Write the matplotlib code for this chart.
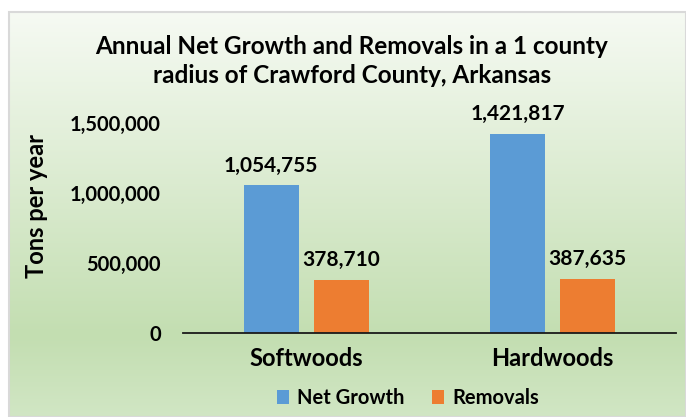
import matplotlib
matplotlib.use("Agg")
import matplotlib.pyplot as plt
import numpy as np
from matplotlib.colors import LinearSegmentedColormap
from matplotlib.patches import Rectangle

categories = ["Softwoods", "Hardwoods"]
net_growth = [1054755, 1421817]
removals = [378710, 387635]
series_names = ["Net Growth", "Removals"]
yticks = [0, 500000, 1000000, 1500000]

plt.rcParams['font.family'] = ['Lato', 'DejaVu Sans']
plt.rcParams['font.weight'] = 'bold'

fig = plt.figure(figsize=(6.86, 4.17), dpi=100)

# gradient background with grey frame
bg = fig.add_axes([10 / 686, 0, 676 / 686, 405 / 417])
bg.set_zorder(-1)
cmap = LinearSegmentedColormap.from_list(
    "bg", [(0.0, "#f6faf3"), (0.80, "#c3deb1"), (1.0, "#d1e6c4")])
grad = np.linspace(0, 1, 256).reshape(-1, 1)
bg.imshow(grad, aspect="auto", cmap=cmap, extent=[0, 1, 0, 1], origin="upper")
bg.set_xlim(0, 1)
bg.set_ylim(0, 1)
bg.axis("off")
fig.patches.append(Rectangle((9 / 686, 0), 677 / 686, 405 / 417, transform=fig.transFigure,
                             fill=False, edgecolor="#d9d9d9", linewidth=1.5))

ax = fig.add_axes([183 / 686, 84 / 417, 493 / 686, 210 / 417])
ax.patch.set_alpha(0)

x = np.arange(len(categories))
w = 0.223
off = 0.142
b1 = ax.bar(x - off, net_growth, w, color="#5b9bd5", label=series_names[0])
b2 = ax.bar(x + off, removals, w, color="#ed7d31", label=series_names[1])

for bars, vals in [(b1, net_growth), (b2, removals)]:
    for r, v in zip(bars, vals):
        ax.annotate(f"{v:,}", (r.get_x() + r.get_width() / 2, v), xytext=(0, 7),
                    textcoords="offset points", ha="center", va="bottom",
                    fontsize=15, fontweight="bold", annotation_clip=False)

ax.set_xlim(-0.5, 1.5)
ax.set_ylim(0, 1500000)
ax.set_yticks(yticks)
ax.set_yticklabels([f"{t:,}" for t in yticks])
ax.set_xticks(x)
ax.set_xticklabels(categories, fontsize=17, fontweight="bold")
ax.tick_params(axis="y", length=0, labelsize=14.5, pad=16)
ax.tick_params(axis="x", length=0, pad=10)
for s in ["top", "right", "left"]:
    ax.spines[s].set_visible(False)
ax.spines["bottom"].set_color("#1a1a1a")
ax.spines["bottom"].set_linewidth(1.3)

fig.text(37 / 686, 1 - 206 / 417, "Tons per year", rotation=90, ha="center", va="center",
         fontsize=17, fontweight="bold")
fig.text(352 / 686, 1 - 61 / 417,
         "Annual Net Growth and Removals in a 1 county\nradius of Crawford County, Arkansas",
         ha="center", va="center", fontsize=17.5, fontweight="bold", linespacing=1.35)

fig.legend(handles=[b1, b2], loc="center", bbox_to_anchor=(408 / 686, 1 - 398 / 417),
           ncol=2, frameon=False, fontsize=14.5, handlelength=0.6, handleheight=0.75,
           handletextpad=0.4, columnspacing=1.4)

fig.savefig("out.png", dpi=100)
